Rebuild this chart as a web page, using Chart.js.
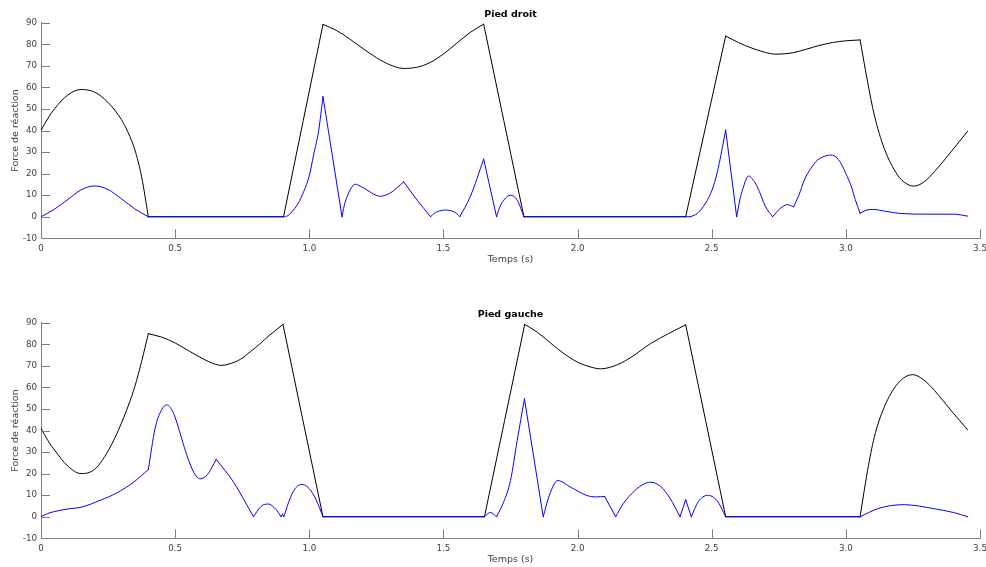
<!DOCTYPE html>
<html><head><meta charset="utf-8">
<script src="https://cdn.jsdelivr.net/npm/chart.js@4/dist/chart.umd.min.js"></script>
<style>
html,body{margin:0;padding:0;background:#fff;width:986px;height:567px;overflow:hidden}
canvas{position:absolute;left:0}
#c1{top:0}#c2{top:300px}
</style></head><body>
<canvas id="c1" width="986" height="267"></canvas>
<canvas id="c2" width="986" height="267"></canvas>
<script>
// ---- Pied droit ----
const rightBlackT = [0,0.025,0.05,0.1,0.15,0.2,0.25,0.3,0.325,0.35,0.375,0.4,0.904,1.051,1.1,1.15,1.2,1.25,1.3,1.35,1.4,1.45,1.5,1.55,1.6,1.65,1.8,2.403,2.552,2.6,2.65,2.7,2.74,2.8,2.85,2.9,2.95,3.0,3.053,3.081,3.106,3.143,3.193,3.22,3.253,3.29,3.33,3.392,3.454];
const rightBlackF = [40,45.5,50,56.5,59,57.8,53,45,39,31,18.5,0,0,89.2,86.5,82.5,78,73.8,70.5,68.8,69.3,71.5,75.5,80.5,85.5,89.3,0,0,83.8,80.8,78.2,76.2,75.4,76,77.6,79.4,80.8,81.6,82,62.6,47.2,31.7,19.3,15.8,14.2,16,20.9,30.1,39.7];
const rightBlackKinks = [0.4,0.904,1.051,1.65,1.8,2.403,2.552,3.053];
const rightBlueT = [0,0.05,0.1,0.15,0.2,0.25,0.3,0.35,0.4,0.904,0.92,0.941,0.96,0.979,1.0,1.016,1.035,1.051,1.122,1.13,1.141,1.155,1.171,1.19,1.215,1.24,1.265,1.29,1.309,1.33,1.352,1.402,1.452,1.465,1.476,1.508,1.539,1.55,1.561,1.6,1.65,1.698,1.71,1.725,1.75,1.775,1.8,2.42,2.44,2.459,2.478,2.496,2.512,2.528,2.552,2.593,2.605,2.615,2.637,2.655,2.670,2.701,2.727,2.755,2.782,2.805,2.825,2.845,2.87,2.895,2.92,2.94,2.962,2.982,3.0,3.019,3.035,3.053,3.075,3.099,3.15,3.205,3.3,3.4,3.454];
const rightBlueF = [0,3.5,8,12.5,14.3,12.6,8.3,3.6,0,0,0.5,3.1,6.5,11.6,19,28.6,40,55.7,0,5,9.3,13,15.1,14.2,12.4,10.5,9.5,10.3,11.6,13.8,16.2,7.7,0,1.5,2.3,3.1,2.3,1.4,0,9.3,26.7,0,4.5,7.7,10,7.7,0,0,1,3.1,6.5,10.8,16.5,24.7,40.2,0,8,12.5,18.9,17,13.9,4.6,0,3.8,5.6,4.6,10,17,22.5,26.3,28,28.6,27.8,24.7,20,14.5,8,1.6,3,3.4,2.5,1.5,1.2,1.2,0.3];
const rightBlueKinks = [0.4,0.904,1.051,1.122,1.352,1.452,1.561,1.65,1.698,1.8,2.42,2.552,2.593,2.727,2.805,3.053];
// ---- Pied gauche ----
const leftBlackT = [0,0.025,0.05,0.1,0.149,0.2,0.25,0.3,0.35,0.375,0.4,0.45,0.5,0.55,0.6,0.65,0.674,0.7,0.743,0.78,0.817,0.85,0.902,1.051,1.653,1.803,1.85,1.9,1.95,2.0,2.05,2.086,2.15,2.2,2.272,2.34,2.403,2.552,3.053,3.081,3.106,3.143,3.193,3.249,3.29,3.33,3.392,3.454];
const leftBlackF = [41,35.5,31,23.5,20,22,30.5,43.5,60.5,72,84.9,83.3,80.6,77,73.5,70.7,70.2,70.8,73,76.5,80.3,84,89.2,0,0,89.2,85.6,80.5,75.6,71.7,69.4,68.6,70.6,74,80.3,85,89,0,0,21.5,36.9,50.8,61.7,65.9,63.5,58.6,49.3,40.3];
const leftBlackKinks = [0.4,0.902,1.051,1.653,1.803,2.403,2.552,3.053];
const leftBlueT = [0,0.025,0.05,0.1,0.152,0.22,0.282,0.345,0.369,0.4,0.425,0.445,0.469,0.49,0.506,0.525,0.544,0.57,0.593,0.62,0.653,0.718,0.792,0.82,0.848,0.875,0.895,0.9,0.905,0.93,0.95,0.973,1.0,1.025,1.051,1.653,1.675,1.698,1.725,1.75,1.775,1.802,1.872,1.895,1.926,1.974,2.036,2.07,2.101,2.142,2.17,2.2,2.24,2.272,2.31,2.345,2.382,2.403,2.424,2.45,2.484,2.52,2.552,3.053,3.118,3.17,3.218,3.27,3.33,3.4,3.454];
const leftBlueF = [0,1.5,2.4,3.6,4.5,7.6,11,16,18.5,21.9,40.8,48.5,51.9,49,43.9,36,28.4,20.5,17.6,19.5,26.6,16,0,4.8,5.9,3.5,0,1.2,0,9,13.5,15,13,8,0,0,2,0,7,16.8,35.4,54.7,0,10,16.8,13.7,9.8,9.2,9.4,0,6,10.5,14.7,16,14,8.5,0,7.9,0,7,9.9,7.5,0,0,3.7,5.2,5.6,5,3.7,2,0];
const leftBlueKinks = [0.4,0.653,0.792,0.895,0.9,0.905,1.051,1.653,1.698,1.802,1.872,2.101,2.142,2.382,2.403,2.424,2.552,3.053];

const FONT = "'DejaVu Sans', sans-serif";
const AXIS = '#808080';
const LABEL = '#404040';

const inwardTicks = {
  id: 'inwardTicks',
  afterDatasetsDraw(chart) {
    const {ctx, chartArea: a, scales: {x, y}} = chart;
    ctx.save();
    ctx.strokeStyle = AXIS;
    ctx.lineWidth = 1;
    ctx.beginPath();
    x.ticks.forEach(t => {
      const p = Math.round(x.getPixelForValue(t.value)) + 0.5;
      ctx.moveTo(p, a.bottom); ctx.lineTo(p, a.bottom - 9);
    });
    y.ticks.forEach(t => {
      const p = Math.round(y.getPixelForValue(t.value)) + 0.5;
      ctx.moveTo(a.left, p); ctx.lineTo(a.left + 9, p);
    });
    ctx.stroke();
    ctx.restore();
  }
};

// split a series into smooth pieces at its kinks
function pieces(T, F, kinks) {
  const out = [];
  let cur = [];
  T.forEach((t, i) => {
    cur.push({x: t, y: F[i]});
    if (kinks.includes(t) && cur.length > 1) { out.push(cur); cur = [{x: t, y: F[i]}]; }
  });
  if (cur.length > 1) out.push(cur);
  return out;
}

function ds(data, color) {
  return {data, borderColor: color, borderWidth: 1, pointRadius: 0,
          cubicInterpolationMode: 'monotone', borderCapStyle: 'round', borderJoinStyle: 'round'};
}

function makeChart(id, title, blackT, blackF, blackK, blueT, blueF, blueK) {
  const datasets = [
    ...pieces(blueT, blueF, blueK).map(p => ds(p, '#0000ff')),
    ...pieces(blackT, blackF, blackK).map(p => ds(p, '#000000'))
  ];
  return new Chart(document.getElementById(id), {
    type: 'line',
    data: {datasets},
    options: {
      responsive: false, animation: false, devicePixelRatio: 1,
      layout: {padding: {left: 0, right: 6, top: 0, bottom: 0}},
      plugins: {
        legend: {display: false}, tooltip: {enabled: false},
        title: {display: true, fullSize: false, text: title, color: '#000',
                font: {family: FONT, size: 9.5, weight: 'bold'}, padding: {top: 9, bottom: 2.3}}
      },
      scales: {
        x: {
          type: 'linear', min: 0, max: 3.5,
          ticks: {stepSize: 0.5, color: LABEL, font: {family: FONT, size: 8.7}, padding: 5, maxRotation: 0, autoSkip: false},
          grid: {drawOnChartArea: false, drawTicks: false},
          border: {display: true, color: AXIS, width: 1},
          title: {display: true, text: 'Temps (s)', color: LABEL, font: {family: FONT, size: 9.5}, padding: {top: 0, bottom: 2}},
          afterFit(s) { s.height = 28.7; s.paddingLeft = 0; s.paddingRight = 0; }
        },
        y: {
          type: 'linear', min: -10, max: 90,
          ticks: {stepSize: 10, color: LABEL, font: {family: FONT, size: 8.7}, padding: 4},
          grid: {drawOnChartArea: false, drawTicks: false},
          border: {display: true, color: AXIS, width: 1},
          title: {display: true, text: 'Force de réaction', color: LABEL, font: {family: FONT, size: 9.5}, padding: {top: 10, bottom: 0}},
          afterFit(s) { s.width = 41; s.paddingTop = 0; s.paddingBottom = 0; }
        }
      }
    },
    plugins: [inwardTicks]
  });
}

makeChart('c1', 'Pied droit', rightBlackT, rightBlackF, rightBlackKinks, rightBlueT, rightBlueF, rightBlueKinks);
makeChart('c2', 'Pied gauche', leftBlackT, leftBlackF, leftBlackKinks, leftBlueT, leftBlueF, leftBlueKinks);
</script>
</body></html>
